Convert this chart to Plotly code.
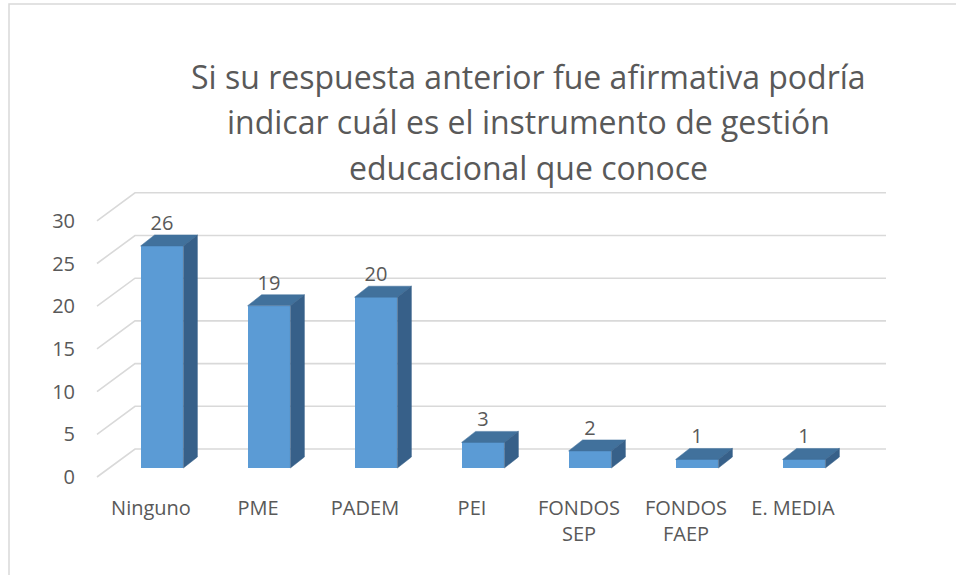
import plotly.graph_objects as go

# data
categorias = ["Ninguno", "PME", "PADEM", "PEI", "FONDOS<br>SEP", "FONDOS<br>FAEP", "E. MEDIA"]
valores = [26, 19, 20, 3, 2, 1, 1]
y_ticks = [0, 5, 10, 15, 20, 25, 30]
titulo = ["Si su respuesta anterior fue afirmativa podría",
          "indicar cuál es el instrumento de gestión",
          "educacional que conoce"]

W, H = 956, 575
# plot area in pixels
L, R, T, B = 88, 900, 175, 492
# pixel mapping of the data space (bar i front centre, bar base front)
X0PX, XSTEP = 162.0, 107.0
Y0PX, YSTEP = 468.0, 8.54

xr = [(L - X0PX) / XSTEP, (R - X0PX) / XSTEP]
yr = [(Y0PX - B) / YSTEP, (Y0PX - T) / YSTEP]

# 3d look: floor depth offsets (front edge -> back wall)
FLOOR_DX = 38 / XSTEP
FLOOR_DY = 28 / YSTEP
FRONT_Y = -(477 - Y0PX) / YSTEP      # front edge of the floor
BACK_Y = FRONT_Y + FLOOR_DY          # back wall
LEFT_X = (97 - X0PX) / XSTEP
RIGHT_X = (886 - X0PX) / XSTEP
BAR_W = 0.40
BAR_DX = 14 / XSTEP
BAR_DY = 11 / YSTEP

TXT = "#595959"
FONT = "Open Sans"
FS = 20
GRID = "#D9D9D9"
FRONT_C = "#5B9BD5"
TOP_C = "#41719C"
SIDE_C = "#376089"


def px_x(p):
    return (p - L) / (R - L)


def px_y(p):
    return (B - p) / (B - T)


fig = go.Figure()

# front faces
xs = list(range(len(valores)))
fig.add_trace(go.Bar(x=xs, y=valores, width=BAR_W, marker=dict(color=FRONT_C, line=dict(width=0)),
                     hoverinfo="skip", showlegend=False))

# top and side faces
for i, v in enumerate(valores):
    x1 = i - BAR_W / 2
    x2 = i + BAR_W / 2
    fig.add_trace(go.Scatter(
        x=[x1, x2, x2 + BAR_DX, x1 + BAR_DX, x1],
        y=[v, v, v + BAR_DY, v + BAR_DY, v],
        fill="toself", fillcolor=TOP_C, mode="lines", line=dict(width=0.5, color=TOP_C),
        hoverinfo="skip", showlegend=False))
    fig.add_trace(go.Scatter(
        x=[x2, x2 + BAR_DX, x2 + BAR_DX, x2, x2],
        y=[0, BAR_DY, v + BAR_DY, v, 0],
        fill="toself", fillcolor=SIDE_C, mode="lines", line=dict(width=0.5, color=SIDE_C),
        hoverinfo="skip", showlegend=False))

# value labels
fig.add_trace(go.Scatter(
    x=xs, y=[v + BAR_DY for v in valores], mode="text",
    text=[str(v) for v in valores], textposition="top center",
    textfont=dict(family=FONT, size=FS, color=TXT),
    hoverinfo="skip", showlegend=False))

# slanted gridlines (side wall + back wall), behind the bars
shapes = []
for v in y_ticks:
    path = "M %f,%f L %f,%f L %f,%f" % (LEFT_X, v + FRONT_Y,
                                        LEFT_X + FLOOR_DX, v + BACK_Y,
                                        RIGHT_X, v + BACK_Y)
    shapes.append(dict(type="path", path=path, xref="x", yref="y", layer="below",
                       line=dict(color=GRID, width=1.6)))

# chart frame
shapes.append(dict(type="rect", xref="paper", yref="paper",
                   x0=px_x(9), x1=px_x(W + 20), y0=px_y(H + 20), y1=px_y(4),
                   line=dict(color=GRID, width=1.5), layer="below"))

annotations = []
for line, yc in zip(titulo, [77, 122, 168]):
    annotations.append(dict(text=line, xref="paper", yref="paper",
                            x=px_x(528), y=px_y(yc), xanchor="center", yanchor="middle",
                            showarrow=False, font=dict(family=FONT, size=32, color=TXT)))

fig.update_layout(
    width=W, height=H,
    margin=dict(l=L, r=W - R, t=T, b=H - B, pad=0),
    paper_bgcolor="white", plot_bgcolor="white",
    font=dict(family=FONT, size=FS, color=TXT),
    shapes=shapes, annotations=annotations,
    showlegend=False, bargap=0,
)
fig.update_xaxes(range=xr, showgrid=False, zeroline=False, showline=False,
                 tickmode="array", tickvals=[i - 0.103 for i in xs], ticktext=categorias,
                 ticks="", ticklabelstandoff=2, tickfont=dict(family=FONT, size=FS, color=TXT),
                 fixedrange=True)
fig.update_yaxes(range=yr, showgrid=False, zeroline=False, showline=False,
                 tickmode="array", tickvals=[v + FRONT_Y for v in y_ticks],
                 ticktext=[str(v) for v in y_ticks],
                 ticks="", ticklabelstandoff=12, tickfont=dict(family=FONT, size=FS, color=TXT),
                 fixedrange=True)

fig.write_html("out.html", config={"displayModeBar": False},
               post_script="document.body.style.margin='0px';")
